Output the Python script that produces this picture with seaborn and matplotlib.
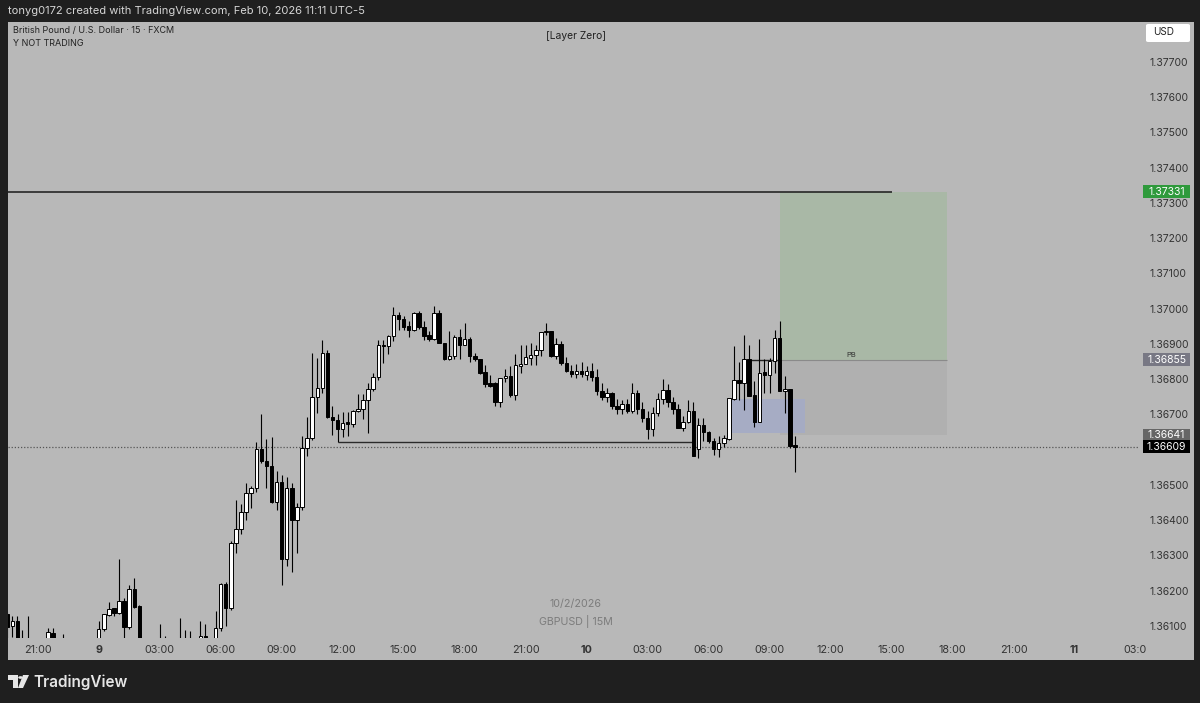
import numpy as np
import pandas as pd
import matplotlib
matplotlib.use("Agg")
import matplotlib.pyplot as plt
import matplotlib.transforms as mtransforms
from matplotlib.patches import Rectangle, FancyBboxPatch, Polygon, Circle
import seaborn as sns

sns.set_theme(style="white")
plt.rcParams['font.family'] = ['Inter', 'DejaVu Sans']

# ---------------- data (GBPUSD 15m, first bar = 19:30 on the 8th)
first_bar = -18   # bars are counted from midnight of the 9th

opens = [1.36133, 1.36099, 1.36113, 1.36058, 1.36048, 1.36058, 1.36030, 1.36020, 1.36045, 1.36080,
         1.36055, 1.36045, 1.36050, 1.36030, 1.36015, 1.36025, 1.36035, 1.36040,
         1.36040, 1.36091, 1.36130, 1.36150, 1.36138, 1.36171, 1.36096, 1.36206, 1.36157, 1.36050,
         1.36030, 1.36020, 1.36030, 1.36045, 1.36035, 1.36025, 1.36040, 1.36050, 1.36040, 1.36050,
         1.36045, 1.36073, 1.36045, 1.36040, 1.36093, 1.36218, 1.36150, 1.36336, 1.36374, 1.36423,
         1.36476, 1.36491, 1.36601, 1.36567, 1.36553, 1.36451, 1.36508, 1.36289, 1.36491, 1.36400,
         1.36438, 1.36605, 1.36633, 1.36750, 1.36775, 1.36873, 1.36693, 1.36684, 1.36659, 1.36677,
         1.36674, 1.36709, 1.36716, 1.36742, 1.36772, 1.36807, 1.36898, 1.36893, 1.36922, 1.36981,
         1.36972, 1.36950, 1.36940, 1.36988, 1.36948, 1.36925, 1.36915, 1.36988, 1.36903, 1.36857,
         1.36865, 1.36919, 1.36898, 1.36915, 1.36867, 1.36857, 1.36820, 1.36789, 1.36789, 1.36736,
         1.36804, 1.36810, 1.36756, 1.36838, 1.36844, 1.36860, 1.36870, 1.36884, 1.36934, 1.36938,
         1.36865, 1.36900, 1.36846, 1.36823, 1.36814, 1.36823, 1.36813, 1.36823, 1.36805,
         1.36766, 1.36750, 1.36760, 1.36725, 1.36715, 1.36730, 1.36710, 1.36760, 1.36715, 1.36690,
         1.36660, 1.36705, 1.36745, 1.36770, 1.36735, 1.36715,
         1.36662, 1.36678, 1.36709, 1.36603, 1.36671, 1.36650, 1.36624, 1.36601, 1.36618, 1.36631,
         1.36745, 1.36799, 1.36790, 1.36856, 1.36754, 1.36679, 1.36820, 1.36812, 1.36851, 1.36917,
         1.36766, 1.36773, 1.36611]
highs = [1.36139, 1.36127, 1.36127, 1.36088, 1.36127, 1.36060, 1.36050, 1.36055, 1.36094, 1.36094,
         1.36062, 1.36078, 1.36058, 1.36045, 1.36040, 1.36050, 1.36055, 1.36055,
         1.36113, 1.36135, 1.36168, 1.36152, 1.36289, 1.36180, 1.36215, 1.36237, 1.36160, 1.36060,
         1.36050, 1.36045, 1.36107, 1.36071, 1.36055, 1.36050, 1.36124, 1.36088, 1.36085, 1.36060,
         1.36113, 1.36107, 1.36060, 1.36142, 1.36223, 1.36225, 1.36340, 1.36457, 1.36445, 1.36507,
         1.36497, 1.36621, 1.36700, 1.36630, 1.36636, 1.36539, 1.36527, 1.36523, 1.36506, 1.36450,
         1.36640, 1.36693, 1.36873, 1.36860, 1.36910, 1.36884, 1.36725, 1.36700, 1.36706, 1.36706,
         1.36714, 1.36759, 1.36759, 1.36789, 1.36818, 1.36912, 1.36910, 1.36925, 1.37004, 1.36990,
         1.36978, 1.36964, 1.36990, 1.36992, 1.36966, 1.36936, 1.37007, 1.36997, 1.36903, 1.36936,
         1.36925, 1.36942, 1.36959, 1.36919, 1.36874, 1.36857, 1.36839, 1.36811, 1.36792, 1.36804,
         1.36830, 1.36837, 1.36872, 1.36896, 1.36896, 1.36903, 1.36898, 1.36934, 1.36959, 1.36938,
         1.36917, 1.36908, 1.36863, 1.36840, 1.36843, 1.36849, 1.36837, 1.36846, 1.36829,
         1.36790, 1.36775, 1.36765, 1.36745, 1.36740, 1.36745, 1.36790, 1.36770, 1.36735, 1.36710,
         1.36720, 1.36760, 1.36800, 1.36785, 1.36750, 1.36730,
         1.36697, 1.36740, 1.36735, 1.36690, 1.36690, 1.36653, 1.36634, 1.36639, 1.36643, 1.36747,
         1.36895, 1.36848, 1.36926, 1.36898, 1.36794, 1.36914, 1.36856, 1.36860, 1.36939, 1.36964,
         1.36808, 1.36773, 1.36639]
lows = [1.36045, 1.36068, 1.36040, 1.36030, 1.36035, 1.36020, 1.36005, 1.36010, 1.36040, 1.36040,
        1.36030, 1.36030, 1.36020, 1.36000, 1.35995, 1.36010, 1.36015, 1.36020,
        1.36030, 1.36085, 1.36127, 1.36127, 1.36133, 1.36060, 1.36092, 1.36150, 1.36030, 1.36010,
        1.36000, 1.36005, 1.36020, 1.36020, 1.36010, 1.36005, 1.36030, 1.36025, 1.36020, 1.36015,
        1.36030, 1.36030, 1.36015, 1.36030, 1.36085, 1.36100, 1.36145, 1.36308, 1.36360, 1.36402,
        1.36436, 1.36480, 1.36563, 1.36492, 1.36449, 1.36429, 1.36215, 1.36270, 1.36254, 1.36306,
        1.36430, 1.36582, 1.36627, 1.36703, 1.36761, 1.36690, 1.36643, 1.36621, 1.36636, 1.36638,
        1.36665, 1.36706, 1.36688, 1.36646, 1.36766, 1.36797, 1.36846, 1.36872, 1.36907, 1.36940,
        1.36939, 1.36919, 1.36937, 1.36942, 1.36912, 1.36908, 1.36912, 1.36903, 1.36855, 1.36855,
        1.36858, 1.36858, 1.36896, 1.36850, 1.36852, 1.36814, 1.36777, 1.36777, 1.36723, 1.36720,
        1.36792, 1.36749, 1.36742, 1.36818, 1.36843, 1.36839, 1.36839, 1.36865, 1.36925, 1.36862,
        1.36858, 1.36839, 1.36820, 1.36806, 1.36802, 1.36805, 1.36797, 1.36795, 1.36756,
        1.36740, 1.36735, 1.36715, 1.36700, 1.36700, 1.36705, 1.36705, 1.36700, 1.36680, 1.36630,
        1.36640, 1.36695, 1.36730, 1.36720, 1.36700, 1.36670,
        1.36654, 1.36676, 1.36582, 1.36577, 1.36624, 1.36618, 1.36586, 1.36578, 1.36609, 1.36627,
        1.36742, 1.36742, 1.36714, 1.36752, 1.36665, 1.36679, 1.36760, 1.36760, 1.36818, 1.36766,
        1.36705, 1.36606, 1.36537]
closes = [1.36096, 1.36113, 1.36058, 1.36048, 1.36058, 1.36030, 1.36020, 1.36045, 1.36083, 1.36055,
          1.36045, 1.36050, 1.36030, 1.36015, 1.36025, 1.36035, 1.36040, 1.36040,
          1.36091, 1.36133, 1.36149, 1.36138, 1.36171, 1.36096, 1.36206, 1.36155, 1.36050, 1.36030,
          1.36020, 1.36030, 1.36045, 1.36035, 1.36025, 1.36040, 1.36050, 1.36040, 1.36050, 1.36045,
          1.36073, 1.36045, 1.36040, 1.36093, 1.36218, 1.36150, 1.36336, 1.36374, 1.36423, 1.36476,
          1.36491, 1.36601, 1.36567, 1.36553, 1.36451, 1.36508, 1.36289, 1.36491, 1.36400, 1.36438,
          1.36605, 1.36633, 1.36750, 1.36775, 1.36873, 1.36693, 1.36684, 1.36659, 1.36676, 1.36674,
          1.36709, 1.36716, 1.36742, 1.36772, 1.36807, 1.36898, 1.36893, 1.36922, 1.36981, 1.36972,
          1.36948, 1.36940, 1.36988, 1.36948, 1.36922, 1.36915, 1.36988, 1.36903, 1.36857, 1.36865,
          1.36919, 1.36898, 1.36915, 1.36867, 1.36857, 1.36818, 1.36787, 1.36780, 1.36736, 1.36804,
          1.36810, 1.36756, 1.36839, 1.36844, 1.36862, 1.36870, 1.36884, 1.36934, 1.36938, 1.36865,
          1.36900, 1.36846, 1.36822, 1.36814, 1.36823, 1.36814, 1.36822, 1.36805, 1.36766,
          1.36750, 1.36760, 1.36725, 1.36715, 1.36730, 1.36710, 1.36760, 1.36715, 1.36690, 1.36660,
          1.36705, 1.36745, 1.36770, 1.36735, 1.36715, 1.36662,
          1.36678, 1.36709, 1.36582, 1.36671, 1.36650, 1.36624, 1.36601, 1.36618, 1.36634, 1.36747,
          1.36799, 1.36790, 1.36856, 1.36752, 1.36679, 1.36818, 1.36812, 1.36851, 1.36917, 1.36766,
          1.36773, 1.36611, 1.36609]

tick_bars = [-12, 0, 12, 24, 36, 48, 60, 72, 84, 96, 108, 120, 132, 144, 156, 168, 180, 192, 204]
tick_labels = ["21:00", "9", "03:00", "06:00", "09:00", "12:00", "15:00", "18:00", "21:00", "10",
               "03:00", "06:00", "09:00", "12:00", "15:00", "18:00", "21:00", "11", "03:0"]
price_ticks = [1.361, 1.362, 1.363, 1.364, 1.365, 1.367, 1.368, 1.369,
               1.370, 1.371, 1.372, 1.373, 1.374, 1.375, 1.376, 1.377]

high_line = 1.37331      # horizontal level, drawn until 15:00 on the 10th
support_line = 1.36621
last_price = 1.36609
target = 1.37331
entry = 1.36855
stop = 1.36641
fvg_top, fvg_bottom = 1.36745, 1.36646

BG = "#b8b8b8"
FRAME = "#1f1f1f"
W, H = 1200, 703

df = pd.DataFrame({"open": opens, "high": highs, "low": lows, "close": closes})
df["bar"] = np.arange(len(df)) + first_bar
df["up"] = df["close"] >= df["open"]

fig = plt.figure(figsize=(W / 100, H / 100), dpi=100, facecolor=FRAME)

def px(x, y):
    return x / W, 1 - y / H

# grey panel behind the chart and price scale
fig.patches.append(Rectangle(px(8, 660), 1186 / W, 638 / H, transform=fig.transFigure,
                             facecolor=BG, edgecolor="none", zorder=-5))

ax = fig.add_axes([8 / W, 1 - 638 / H, 1130 / W, 616 / H])
ax.set_zorder(2)
ax.set_facecolor(BG)
for s in ax.spines.values():
    s.set_visible(False)
ax.set_xlim(-17.85, 204.5)
ax.set_ylim(1.36066, 1.37813)

# zones of the long position tool
ax.add_patch(Rectangle((134, entry), 33, target - entry, facecolor="#a9b8a6", edgecolor="none", zorder=1))
ax.add_patch(Rectangle((134, stop), 33, entry - stop, facecolor="#b0b0b0", edgecolor="none", zorder=1))
ax.add_patch(Rectangle((124, fvg_bottom), 15, fvg_top - fvg_bottom, facecolor="#a4abc6",
                       edgecolor="none", alpha=0.9, zorder=1.5))
ax.hlines(entry, 134, 167, color="#8a8a8a", lw=0.8, zorder=1.6)
ax.hlines(entry, 127.5, 134, color="#222222", lw=1.0, zorder=3)
ax.text(148, entry + 0.00004, "PB", fontsize=5.5, color="#333333", ha="center", va="bottom")

# levels
ax.hlines(high_line, -17.85, 156, color="#1a1a1a", lw=1.1, zorder=2)
ax.hlines(support_line, 47, 117, color="#2a2a2a", lw=1.0, zorder=2)
ax.axhline(last_price, color="#555555", lw=0.9, ls=(0, (1, 1.5)), zorder=2)

# candles
ax.vlines(df["bar"], df["low"], df["high"], color="black", lw=0.8, zorder=3)
body_low = df[["open", "close"]].min(axis=1)
body_h = (df["close"] - df["open"]).abs().clip(lower=0.000035)
ax.bar(df["bar"], body_h, bottom=body_low, width=0.68,
       color=np.where(df["up"], "white", "black"), edgecolor="black", linewidth=0.7, zorder=4)

# axes labels
ax.set_xticks(tick_bars)
ax.set_xticklabels(tick_labels)
for lab in ax.get_xticklabels():
    if lab.get_text() in ("9", "10", "11"):
        lab.set_fontweight("bold")
ax.set_yticks(price_ticks)
ax.set_yticklabels([f"{p:.5f}" for p in price_ticks])
ax.yaxis.tick_right()
ax.tick_params(axis="x", length=0, pad=5, labelsize=7.8, labelcolor="#333333")
ax.tick_params(axis="y", length=0, pad=8, labelsize=7.5, labelcolor="#333333")

# price tags on the scale
tr = mtransforms.blended_transform_factory(ax.transAxes, ax.transData)
tag_h = 13 * (1.37813 - 1.36066) / 616
x0 = (1143 - 8) / 1130
x1 = (1190 - 8) / 1130
for price, fc in [(target, "#2f9a3c"), (entry, "#787884"), (stop, "#666666"), (last_price, "#000000")]:
    ax.add_patch(Rectangle((x0, price - tag_h / 2), x1 - x0, tag_h, transform=tr,
                           facecolor=fc, edgecolor="none", clip_on=False, zorder=5))
    ax.text((x0 + x1) / 2, price, f"{price:.5f}", transform=tr, ha="center", va="center",
            fontsize=7.5, color="white", clip_on=False, zorder=6)

# USD box
fig.patches.append(FancyBboxPatch(px(1146, 42), 44 / W, 18 / H, boxstyle="round,pad=0,rounding_size=0.002",
                                  transform=fig.transFigure, facecolor="white", edgecolor="none", zorder=3))
fig.text(*px(1153, 32), "USD", fontsize=7.2, color="#222222", va="center")

# header texts
fig.text(*px(8, 11), "tonyg0172 created with TradingView.com, Feb 10, 2026 11:11 UTC-5",
         fontsize=8, color="#d6d6d6", va="center")
fig.text(*px(13, 31), "British Pound / U.S. Dollar · 15 · FXCM", fontsize=6.5, color="#222222", va="center")
fig.text(*px(13, 43), "Y NOT TRADING", fontsize=6.5, color="#222222", va="center")
fig.text(*px(576, 36), "[Layer Zero]", fontsize=7.4, color="#222222", va="center", ha="center")

# watermark
fig.text(*px(576, 604), "10/2/2026", fontsize=7.7, color="#7c7c7c", va="center", ha="center")
fig.text(*px(576, 622), "GBPUSD | 15M", fontsize=7.7, color="#7c7c7c", va="center", ha="center")

# TradingView logo
logo = "#e6e6e6"
fig.patches.append(Polygon([px(8, 675), px(18, 675), px(18, 688), px(13, 688), px(13, 680), px(8, 680)],
                           closed=True, transform=fig.transFigure, facecolor=logo, edgecolor="none"))
fig.patches.append(Circle(px(20.5, 677.5), 2.3 / W, transform=fig.transFigure, facecolor=logo, edgecolor="none"))
fig.patches.append(Polygon([px(23, 675), px(29, 675), px(23, 688), px(18, 688)],
                           closed=True, transform=fig.transFigure, facecolor=logo, edgecolor="none"))
fig.text(*px(33, 682), "TradingView", fontsize=11, color=logo, va="center", fontweight="semibold")

fig.savefig("out.png", dpi=100, facecolor=FRAME)
